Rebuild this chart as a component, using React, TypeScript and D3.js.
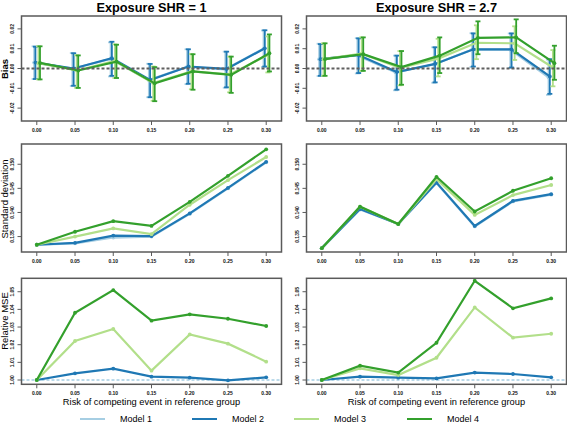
import React from 'react';
import * as d3 from 'd3';

// ---------- data ----------
const risks = [0, 0.05, 0.1, 0.15, 0.2, 0.25, 0.3];
const xTickLabels = ['0.00', '0.05', '0.10', '0.15', '0.20', '0.25', '0.30'];
const modelNames = ['Model 1', 'Model 2', 'Model 3', 'Model 4'];
const modelColors = ['#a6cee3', '#1f78b4', '#b2df8a', '#33a02c'];
const panelTitles = ['Exposure SHR = 1', 'Exposure SHR = 2.7'];
const rowTitles = ['Bias', 'Standard deviation', 'Relative MSE'];
const xTitle = 'Risk of competing event in reference group';

const biasTicks = [-0.02, -0.01, 0, 0.01, 0.02];
const sdTicks = [0.135, 0.14, 0.145, 0.15];
const mseTicks = [1.0, 1.01, 1.02, 1.03, 1.04, 1.05];

// Bias, SHR = 1 (estimate, lower, upper)
const biasA_m1 = [0.0030, -0.0001, 0.0048, -0.0058, 0.0008, -0.0004, 0.0100];
const biasA_m1_lo = [-0.0053, -0.0088, -0.0040, -0.0145, -0.0079, -0.0097, 0.0008];
const biasA_m1_hi = [0.0112, 0.0078, 0.0132, 0.0024, 0.0097, 0.0085, 0.0192];
const biasA_m2 = [0.0030, 0.0000, 0.0052, -0.0058, 0.0010, -0.0002, 0.0102];
const biasA_m2_lo = [-0.0053, -0.0087, -0.0037, -0.0145, -0.0077, -0.0095, 0.0010];
const biasA_m2_hi = [0.0110, 0.0077, 0.0135, 0.0023, 0.0097, 0.0085, 0.0193];
const biasA_m3 = [0.0027, -0.0010, 0.0038, -0.0073, -0.0015, -0.0030, 0.0068];
const biasA_m3_lo = [-0.0055, -0.0098, -0.0048, -0.0163, -0.0105, -0.0120, -0.0020];
const biasA_m3_hi = [0.0112, 0.0067, 0.0122, 0.0010, 0.0073, 0.0060, 0.0162];
const biasA_m4 = [0.0028, -0.0010, 0.0035, -0.0075, -0.0015, -0.0032, 0.0077];
const biasA_m4_lo = [-0.0055, -0.0098, -0.0048, -0.0165, -0.0107, -0.0123, -0.0015];
const biasA_m4_hi = [0.0112, 0.0066, 0.0120, 0.0007, 0.0072, 0.0060, 0.0172];

// Bias, SHR = 2.7
const biasB_m1 = [0.0047, 0.0066, -0.0020, 0.0020, 0.0095, 0.0095, -0.0045];
const biasB_m1_lo = [-0.0038, -0.0025, -0.0110, -0.0072, 0.0008, 0.0003, -0.0133];
const biasB_m1_hi = [0.0125, 0.0153, 0.0065, 0.0107, 0.0178, 0.0177, 0.0045];
const biasB_m2 = [0.0047, 0.0068, -0.0018, 0.0023, 0.0097, 0.0097, -0.0040];
const biasB_m2_lo = [-0.0037, -0.0023, -0.0107, -0.0070, 0.0010, 0.0005, -0.0128];
const biasB_m2_hi = [0.0123, 0.0152, 0.0065, 0.0107, 0.0177, 0.0177, 0.0047];
const biasB_m3 = [0.0047, 0.0075, 0.0003, 0.0050, 0.0130, 0.0127, 0.0005];
const biasB_m3_lo = [-0.0037, -0.0012, -0.0085, -0.0040, 0.0047, 0.0043, -0.0090];
const biasB_m3_hi = [0.0127, 0.0157, 0.0088, 0.0150, 0.0218, 0.0213, 0.0093];
const biasB_m4 = [0.0047, 0.0072, 0.0007, 0.0065, 0.0155, 0.0157, 0.0027];
const biasB_m4_lo = [-0.0037, -0.0012, -0.0082, -0.0023, 0.0072, 0.0077, -0.0057];
const biasB_m4_hi = [0.0127, 0.0157, 0.0088, 0.0157, 0.0238, 0.0248, 0.0115];

// Standard deviation
const sdA_m1 = [0.1333, 0.1336, 0.1348, 0.1350, 0.1397, 0.1450, 0.1504];
const sdA_m2 = [0.1333, 0.1337, 0.1352, 0.1351, 0.1398, 0.1451, 0.1505];
const sdA_m3 = [0.1333, 0.1350, 0.1367, 0.1355, 0.1416, 0.1467, 0.1515];
const sdA_m4 = [0.1333, 0.1360, 0.1382, 0.1372, 0.1422, 0.1476, 0.1531];
const sdB_m1 = [0.1326, 0.1406, 0.1376, 0.1461, 0.1371, 0.1423, 0.1437];
const sdB_m2 = [0.1326, 0.1407, 0.1376, 0.1462, 0.1372, 0.1424, 0.1438];
const sdB_m3 = [0.1326, 0.1412, 0.1376, 0.1469, 0.1395, 0.1436, 0.1457];
const sdB_m4 = [0.1326, 0.1412, 0.1376, 0.1474, 0.1402, 0.1445, 0.1471];

// Relative MSE (Model 1 is the reference = 1)
const mseRef = 1.0;
const mseA_m2 = [1.0000, 1.0038, 1.0064, 1.0019, 1.0013, 0.9998, 1.0015];
const mseA_m3 = [1.0000, 1.0221, 1.0289, 1.0053, 1.0258, 1.0206, 1.0104];
const mseA_m4 = [1.0000, 1.0381, 1.0509, 1.0336, 1.0372, 1.0347, 1.0306];
const mseB_m2 = [1.0000, 1.0019, 1.0013, 1.0009, 1.0042, 1.0034, 1.0015];
const mseB_m3 = [1.0000, 1.0066, 1.0028, 1.0126, 1.0411, 1.0240, 1.0262];
const mseB_m4 = [1.0000, 1.0081, 1.0042, 1.0211, 1.0562, 1.0406, 1.0462];

// ---------- layout ----------
const W = 567;
const H = 422;
const FONT = 'Liberation Sans, Arial, Helvetica, sans-serif';
const colRanges: [number, number][] = [[21.5, 281.5], [306.5, 566.5]];
const rowRanges: [number, number][] = [[121, 16], [252, 144], [384.3, 278.3]];
const rowDomains: [number, number][] = [[-0.0265, 0.0265], [0.1318, 0.1542], [0.99757, 1.0576]];
const rowTicks = [biasTicks, sdTicks, mseTicks];
const rowTickFmt = [(v: number) => v.toFixed(2), (v: number) => v.toFixed(3), (v: number) => v.toFixed(2)];
const dodge = [-0.0035, -0.0018, 0.0022, 0.0042];
const frameColor = '#5a5a5a';

type BiasSeries = { est: number[]; lo: number[]; hi: number[] };
const biasData: BiasSeries[][] = [
  [
    { est: biasA_m1, lo: biasA_m1_lo, hi: biasA_m1_hi },
    { est: biasA_m2, lo: biasA_m2_lo, hi: biasA_m2_hi },
    { est: biasA_m3, lo: biasA_m3_lo, hi: biasA_m3_hi },
    { est: biasA_m4, lo: biasA_m4_lo, hi: biasA_m4_hi },
  ],
  [
    { est: biasB_m1, lo: biasB_m1_lo, hi: biasB_m1_hi },
    { est: biasB_m2, lo: biasB_m2_lo, hi: biasB_m2_hi },
    { est: biasB_m3, lo: biasB_m3_lo, hi: biasB_m3_hi },
    { est: biasB_m4, lo: biasB_m4_lo, hi: biasB_m4_hi },
  ],
];
const sdData = [
  [sdA_m1, sdA_m2, sdA_m3, sdA_m4],
  [sdB_m1, sdB_m2, sdB_m3, sdB_m4],
];
const mseData = [
  [null, mseA_m2, mseA_m3, mseA_m4],
  [null, mseB_m2, mseB_m3, mseB_m4],
];

function Panel({ col, row }: { col: number; row: number }) {
  const x = d3.scaleLinear().domain([-0.02, 0.32]).range(colRanges[col]);
  const y = d3.scaleLinear().domain(rowDomains[row]).range(rowRanges[row]);
  const [x0, x1] = colRanges[col];
  const [yb, yt] = rowRanges[row];
  const els: React.ReactNode[] = [];

  const line = (vals: number[], dx: number) =>
    d3.line<number>().x((_, i) => x(risks[i] + dx)).y((v) => y(v))(vals) as string;

  if (row === 0) {
    biasData[col].forEach((s, m) => {
      const dx = dodge[m];
      els.push(
        <path key={`l${m}`} d={line(s.est, dx)} fill="none" stroke={modelColors[m]} strokeWidth={2.2} />
      );
      s.est.forEach((v, i) => {
        const cx = x(risks[i] + dx);
        els.push(
          <g key={`e${m}-${i}`} stroke={modelColors[m]} strokeWidth={1.8}>
            <line x1={cx} x2={cx} y1={y(s.lo[i])} y2={y(s.hi[i])} />
            <line x1={cx - 2.5} x2={cx + 2.5} y1={y(s.lo[i])} y2={y(s.lo[i])} />
            <line x1={cx - 2.5} x2={cx + 2.5} y1={y(s.hi[i])} y2={y(s.hi[i])} />
          </g>
        );
        els.push(<circle key={`p${m}-${i}`} cx={cx} cy={y(v)} r={1.9} fill={modelColors[m]} />);
      });
    });
    els.push(
      <line key="zero" x1={x0} x2={x1} y1={y(0)} y2={y(0)} stroke="#5f5f5f" strokeWidth={1.8} strokeDasharray="3,2" />
    );
  } else {
    const series = row === 1 ? sdData[col] : mseData[col];
    if (row === 2) {
      els.push(
        <line key="ref" x1={x0} x2={x1} y1={y(mseRef)} y2={y(mseRef)} stroke={modelColors[0]} strokeWidth={1.6} strokeDasharray="3,2" />
      );
    }
    series.forEach((vals, m) => {
      if (!vals) return;
      els.push(<path key={`l${m}`} d={line(vals, 0)} fill="none" stroke={modelColors[m]} strokeWidth={2.2} />);
      vals.forEach((v, i) =>
        els.push(<circle key={`p${m}-${i}`} cx={x(risks[i])} cy={y(v)} r={1.9} fill={modelColors[m]} />)
      );
    });
  }

  return (
    <g>
      {els}
      <rect x={x0} y={yt} width={x1 - x0} height={yb - yt} fill="none" stroke={frameColor} strokeWidth={1.5} />
      {risks.map((r, i) => (
        <g key={`xt${i}`}>
          <line x1={x(r)} x2={x(r)} y1={yb} y2={yb + 4} stroke={frameColor} strokeWidth={1} />
          <text x={x(r)} y={yb + 10.5} fontSize={5} fontWeight="bold" textAnchor="middle" fontFamily={FONT} fill="#111">
            {xTickLabels[i]}
          </text>
        </g>
      ))}
      {rowTicks[row].map((t, i) => (
        <g key={`yt${i}`}>
          <line x1={x0 - 4} x2={x0} y1={y(t)} y2={y(t)} stroke={frameColor} strokeWidth={1} />
          <text
            transform={`translate(${x0 - 7.5},${y(t)}) rotate(-90)`}
            fontSize={5}
            fontWeight="bold"
            textAnchor="middle"
            fontFamily={FONT}
            fill="#111"
          >
            {rowTickFmt[row](t)}
          </text>
        </g>
      ))}
    </g>
  );
}

const rowTitleY = [69, 199, 321];
const legendX = [120, 232, 334, 447];

export default function App() {
  return (
    <svg width={W} height={H} style={{ position: 'absolute', left: 0, top: 0, background: '#fff' }}>
      <rect width={W} height={H} fill="#fff" />
      {[0, 1].map((c) => (
        <text
          key={`title${c}`}
          x={(colRanges[c][0] + colRanges[c][1]) / 2}
          y={12}
          fontSize={13.5}
          fontWeight="bold"
          textAnchor="middle"
          fontFamily={FONT}
          textLength={c === 0 ? 110 : 121}
          lengthAdjust="spacingAndGlyphs"
        >
          {panelTitles[c]}
        </text>
      ))}
      {[0, 1, 2].map((r) =>
        [0, 1].map((c) => <Panel key={`p${r}${c}`} col={c} row={r} />)
      )}
      {rowTitles.map((t, r) => (
        <text
          key={`rt${r}`}
          transform={`translate(8,${rowTitleY[r]}) rotate(-90)`}
          fontSize={9.5}
          textAnchor="middle"
          fontFamily={FONT}
          fontWeight={r === 0 ? 'bold' : 'normal'}
        >
          {t}
        </text>
      ))}
      {[0, 1].map((c) => (
        <text
          key={`xt${c}`}
          x={(colRanges[c][0] + colRanges[c][1]) / 2}
          y={404.5}
          fontSize={9.3}
          textAnchor="middle"
          fontFamily={FONT}
        >
          {xTitle}
        </text>
      ))}
      {modelNames.map((n, m) => (
        <g key={`lg${m}`}>
          <line x1={legendX[m] - 40} x2={legendX[m] - 15} y1={419} y2={419} stroke={modelColors[m]} strokeWidth={2} />
          <text x={legendX[m]} y={421.5} fontSize={9} fontFamily={FONT}>
            {n}
          </text>
        </g>
      ))}
    </svg>
  );
}
